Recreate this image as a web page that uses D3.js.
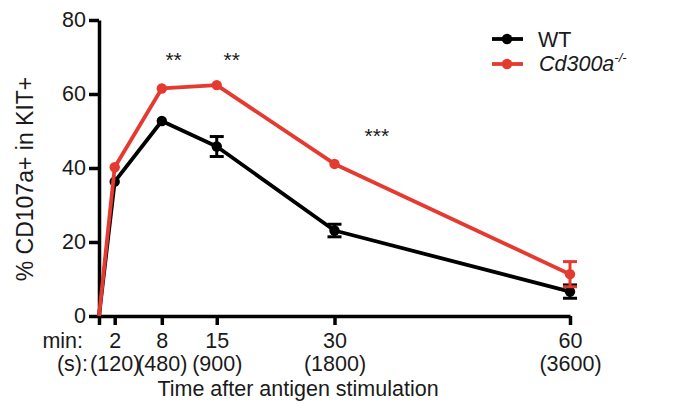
<!DOCTYPE html>
<html>
<head>
<meta charset="utf-8">
<script src="https://cdn.jsdelivr.net/npm/d3@7"></script>
<style>
body { margin: 0; background: #fff; }
text { font-family: "Liberation Sans", Arial, Helvetica, sans-serif; fill: #1a1a1a; }
</style>
</head>
<body>
<div class="fig"></div>
<script>
// time points (min) and seconds labels
var times = [0, 2, 8, 15, 30, 60];
var secs = ["", "(120)", "(480)", "(900)", "(1800)", "(3600)"];
// % CD107a+ in KIT+
var wtMean = [0, 36.3, 52.7, 45.8, 23.1, 6.6];
var wtErr  = [0, 0.8, 0.6, 2.7, 1.7, 1.8];
var koMean = [0, 40.2, 61.5, 62.4, 41.1, 11.3];
var koErr  = [0, 0.6, 0.6, 0.6, 0.6, 3.4];
var yTicks = [0, 20, 40, 60, 80];
// significance marks (placed in data units)
var sigs = [
  { t: 9.5, v: 67.4, s: "**" },
  { t: 16.9, v: 67.2, s: "**" },
  { t: 35.4, v: 46.8, s: "***" }
];

var red = "#e53a2f";

const svg = d3.select(".fig")
              .append("svg")
              .attr("width", 677)
              .attr("height", 415);

var x = d3.scaleLinear().domain([0, 60]).range([99, 570]);
var y = d3.scaleLinear().domain([0, 80]).range([316, 20]);

// y axis
var yAx = svg.append("g")
    .attr("transform", "translate(" + 99 + ",0)")
    .call(d3.axisLeft(y).tickValues(yTicks).tickSize(10).tickSizeOuter(0).tickPadding(3));
yAx.selectAll("path, line").attr("stroke", "#000").attr("stroke-width", 3.5);
yAx.selectAll("text").style("font-size", "21.5px").attr("fill", "#1a1a1a");

// x axis
var xAx = svg.append("g")
    .attr("transform", "translate(0," + 316 + ")")
    .call(d3.axisBottom(x).tickValues(times).tickSize(9).tickSizeOuter(0)
           .tickFormat(function(d) { return d === 0 ? "" : d; }));
xAx.selectAll("path, line").attr("stroke", "#000").attr("stroke-width", 3.5);
xAx.selectAll("text")
   .style("font-size", "21.5px")
   .attr("fill", "#1a1a1a")
   .attr("y", 32).attr("dy", 0);
xAx.selectAll(".tick").append("text")
   .attr("y", 55)
   .attr("text-anchor", "middle")
   .style("font-size", "21.5px")
   .attr("fill", "#1a1a1a")
   .text(function(d, i) { return secs[i]; });

svg.append("text").attr("x", 83).attr("y", 348).attr("text-anchor", "end")
   .style("font-size", "21.5px").text("min:");
svg.append("text").attr("x", 88).attr("y", 371).attr("text-anchor", "end")
   .style("font-size", "21.5px").text("(s):");

svg.append("text").attr("x", 298).attr("y", 396).attr("text-anchor", "middle")
   .style("font-size", "21.5px").text("Time after antigen stimulation");

svg.append("text")
   .attr("transform", "translate(33,179) rotate(-90)")
   .attr("text-anchor", "middle")
   .style("font-size", "23px")
   .text("% CD107a+ in KIT+");

function series(mean, err, color) {
  var pts = times.map(function(t, i) { return { t: t, m: mean[i], e: err[i] }; });
  var line = d3.line().x(function(d) { return x(d.t); }).y(function(d) { return y(d.m); });
  svg.append("path").datum(pts)
     .attr("d", line).attr("fill", "none")
     .attr("stroke", color).attr("stroke-width", 3.8)
     .attr("stroke-linejoin", "round");
  var p = pts.filter(function(d) { return d.t > 0; });
  var eb = svg.append("g").selectAll("g").data(p).enter().append("g")
     .attr("stroke", color).attr("stroke-width", 3);
  eb.append("line")
     .attr("x1", function(d) { return x(d.t); }).attr("x2", function(d) { return x(d.t); })
     .attr("y1", function(d) { return y(d.m - d.e); }).attr("y2", function(d) { return y(d.m + d.e); });
  eb.filter(function(d) { return d.e > 1; }).append("line")
     .attr("x1", function(d) { return x(d.t) - 7; }).attr("x2", function(d) { return x(d.t) + 7; })
     .attr("y1", function(d) { return y(d.m + d.e); }).attr("y2", function(d) { return y(d.m + d.e); });
  eb.filter(function(d) { return d.e > 1; }).append("line")
     .attr("x1", function(d) { return x(d.t) - 7; }).attr("x2", function(d) { return x(d.t) + 7; })
     .attr("y1", function(d) { return y(d.m - d.e); }).attr("y2", function(d) { return y(d.m - d.e); });
  svg.append("g").selectAll("circle").data(p).enter().append("circle")
     .attr("cx", function(d) { return x(d.t); })
     .attr("cy", function(d) { return y(d.m); })
     .attr("r", 5.2).attr("fill", color);
}
series(wtMean, wtErr, "#000");
series(koMean, koErr, red);

svg.selectAll(".sig").data(sigs).enter().append("text")
   .attr("class", "sig")
   .attr("x", function(d) { return x(d.t); })
   .attr("y", function(d) { return y(d.v); })
   .attr("text-anchor", "middle")
   .style("font-size", "21px")
   .text(function(d) { return d.s; });

// legend
var leg = [{ c: "#000", y: 39 }, { c: red, y: 64 }];
leg.forEach(function(l) {
  svg.append("line").attr("x1", 492).attr("x2", 523).attr("y1", l.y).attr("y2", l.y)
     .attr("stroke", l.c).attr("stroke-width", 3.8);
  svg.append("circle").attr("cx", 507).attr("cy", l.y).attr("r", 5.2).attr("fill", l.c);
});
svg.append("text").attr("x", 538).attr("y", 47).style("font-size", "21.5px").text("WT");
var t2 = svg.append("text").attr("x", 539).attr("y", 71).style("font-size", "21.5px");
t2.append("tspan").style("font-style", "italic").text("Cd300a");
t2.append("tspan").style("font-style", "italic").style("font-size", "13px")
  .attr("dy", -9).text("-/-");
</script>
</body>
</html>
